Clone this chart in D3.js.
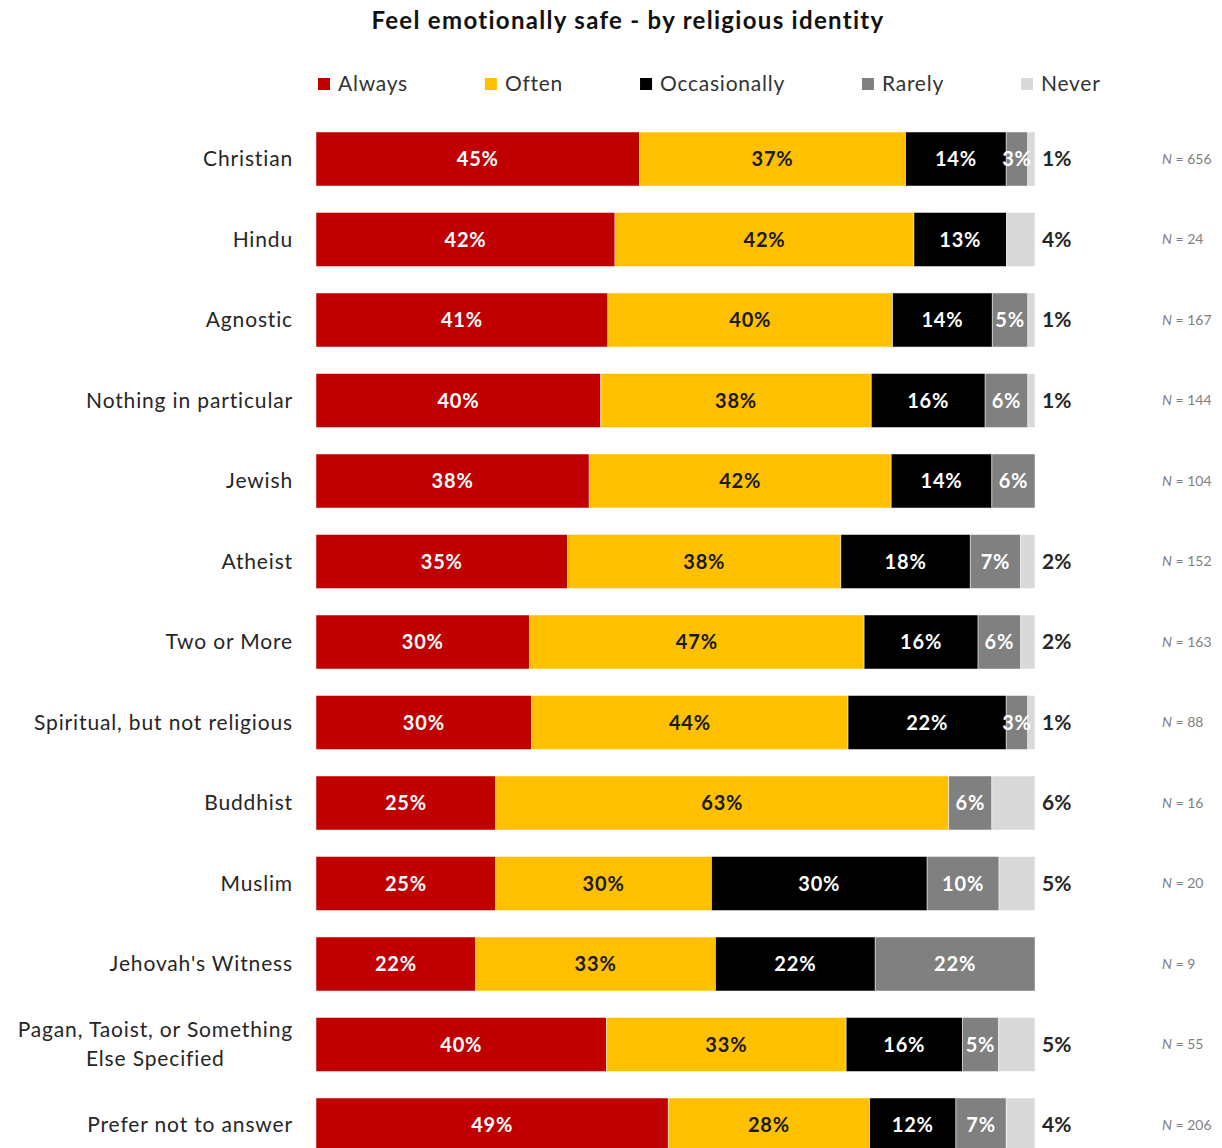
<!DOCTYPE html>
<html>
<head>
<meta charset="utf-8">
<script src="https://cdn.jsdelivr.net/npm/d3@7"></script>
<style>
  html, body { margin: 0; padding: 0; background: #fff; }
  svg { display: block; font-family: Lato, "Open Sans", sans-serif; }
</style>
</head>
<body>
<svg id="chart" width="1222" height="1148"></svg>
<script>
// Response categories, in stacking order
const responses = ["Always", "Often", "Occasionally", "Rarely", "Never"];
const colors = ["#C00000", "#FFC000", "#000000", "#808080", "#D9D9D9"];

// Religious identity groups (top to bottom)
const groups = [
  "Christian", "Hindu", "Agnostic", "Nothing in particular", "Jewish", "Atheist",
  "Two or More", "Spiritual, but not religious", "Buddhist", "Muslim",
  "Jehovah's Witness", "Pagan, Taoist, or Something Else Specified", "Prefer not to answer"
];

// Percent of each group giving each response
const always       = [45, 42, 41, 40, 38, 35, 30, 30, 25, 25, 22, 40, 49];
const often        = [37, 42, 40, 38, 42, 38, 47, 44, 63, 30, 33, 33, 28];
const occasionally = [14, 13, 14, 16, 14, 18, 16, 22,  0, 30, 22, 16, 12];
const rarely       = [ 3,  0,  5,  6,  6,  7,  6,  3,  6, 10, 22,  5,  7];
const never        = [ 1,  4,  1,  1,  0,  2,  2,  1,  6,  5,  0,  5,  4];

// Respondents per group
const sampleSizes = [656, 24, 167, 144, 104, 152, 163, 88, 16, 20, 9, 55, 206];

const seriesValues = [always, often, occasionally, rarely, never];
const rows = groups.map((g, i) => {
  const r = { group: g, n: sampleSizes[i] };
  responses.forEach((k, j) => r[k] = seriesValues[j][i]);
  return r;
});

const svg = d3.select("#chart");

const x = d3.scaleLinear().domain([0, 1]).range([316, 1035]);
const y = d3.scaleBand().domain(groups)
  .range([118.75, 118.75 + groups.length * 80.5])
  .paddingInner(0.329).paddingOuter(0.1645);

const stack = d3.stack().keys(responses).offset(d3.stackOffsetExpand);
const layers = stack(rows);

// Title
svg.append("text")
  .attr("x", 628).attr("y", 29)
  .attr("text-anchor", "middle")
  .attr("font-size", 24).attr("font-weight", 700).attr("fill", "#111")
  .attr("letter-spacing", 1.3)
  .text("Feel emotionally safe - by religious identity");

// Legend
const legend = svg.append("g").attr("transform", "translate(318,84)");
let lx = 0;
responses.forEach((k, i) => {
  const item = legend.append("g").attr("transform", `translate(${lx},0)`);
  item.append("rect").attr("x", 0).attr("y", -6).attr("width", 12).attr("height", 12)
    .attr("fill", colors[i]);
  const t = item.append("text").attr("x", 20).attr("y", 0).attr("dy", "0.35em")
    .attr("font-size", 21).attr("letter-spacing", 0.75).attr("fill", "#333").text(k);
  lx += 20 + t.node().getComputedTextLength() + 77;
});

// Stacked bars
const barG = svg.append("g");
layers.forEach((layer, li) => {
  barG.selectAll(null).data(layer).enter().append("rect")
    .attr("x", d => x(d[0]))
    .attr("y", d => y(d.data.group))
    .attr("width", d => Math.max(0, x(d[1]) - x(d[0])))
    .attr("height", y.bandwidth())
    .attr("fill", colors[li])
    .attr("stroke", "#fff").attr("stroke-opacity", 0.6).attr("stroke-width", 0.8);
});

// Segment labels (Never is labelled outside the bar)
layers.forEach((layer, li) => {
  const key = responses[li];
  const labelled = layer.filter(d => d.data[key] > 0);
  if (key === "Never") {
    svg.selectAll(null).data(labelled).enter().append("text")
      .attr("x", 1042)
      .attr("y", d => y(d.data.group) + y.bandwidth() / 2)
      .attr("dy", "0.35em")
      .attr("font-size", 21).attr("font-weight", 700).attr("fill", "#262626")
      .text(d => d.data[key] + "%");
  } else {
    svg.selectAll(null).data(labelled).enter().append("text")
      .attr("x", d => (x(d[0]) + x(d[1])) / 2)
      .attr("y", d => y(d.data.group) + y.bandwidth() / 2)
      .attr("dy", "0.35em")
      .attr("text-anchor", "middle")
      .attr("font-size", 20).attr("font-weight", 700).attr("letter-spacing", 0.8)
      .attr("fill", key === "Often" ? "#1a1a1a" : "#fff")
      .text(d => d.data[key] + "%");
  }
});

// Category labels
const wrapped = {
  "Pagan, Taoist, or Something Else Specified": ["Pagan, Taoist, or Something", "Else Specified"]
};
const labelStyle = sel => sel.attr("font-size", 21).attr("letter-spacing", 0.85).attr("fill", "#262626");
groups.forEach(g => {
  const cy = y(g) + y.bandwidth() / 2;
  const lines = wrapped[g];
  if (!lines) {
    svg.append("text").attr("x", 293).attr("y", cy).attr("dy", "0.35em")
      .attr("text-anchor", "end").call(labelStyle).text(g);
  } else {
    const first = svg.append("text").attr("x", 293).attr("y", cy - 15).attr("dy", "0.35em")
      .attr("text-anchor", "end").call(labelStyle).text(lines[0]);
    const w = first.node().getComputedTextLength();
    svg.append("text").attr("x", 293 - w / 2).attr("y", cy + 14).attr("dy", "0.35em")
      .attr("text-anchor", "middle").call(labelStyle).text(lines[1]);
  }
});

// Sample sizes
rows.forEach(r => {
  const t = svg.append("text").attr("x", 1162)
    .attr("y", y(r.group) + y.bandwidth() / 2).attr("dy", "0.35em")
    .attr("font-size", 14).attr("fill", "#7f7f7f");
  t.append("tspan").attr("font-style", "italic").text("N");
  t.append("tspan").text(" = " + r.n);
});
</script>
</body>
</html>
